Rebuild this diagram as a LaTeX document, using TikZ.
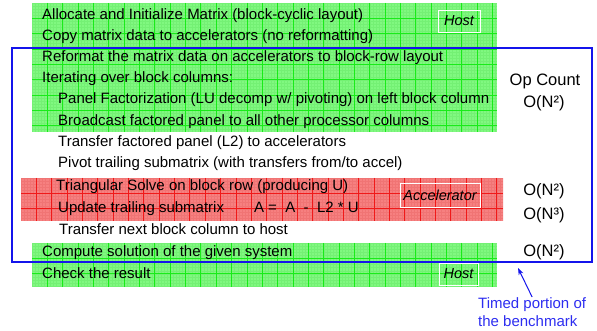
\documentclass[tikz,border=0pt]{standalone}
\usepackage{fontspec}
\setmainfont{Liberation Sans}
\usetikzlibrary{arrows.meta}

\definecolor{hostfill}{RGB}{128,248,128}
\definecolor{hostline}{RGB}{25,235,25}
\definecolor{hostminor}{RGB}{116,240,116}
\definecolor{accfill}{RGB}{246,128,128}
\definecolor{accline}{RGB}{240,25,25}
\definecolor{accminor}{RGB}{240,116,116}
\definecolor{timeblue}{RGB}{20,20,235}
\definecolor{noteblue}{RGB}{45,45,240}

% graph-paper panel: #1,#2 top-left, #3,#4 bottom-right, #5 fill, #6 major, #7 minor
\newcommand\paperpanel[7]{%
  \begin{scope}
    \clip (#1,#2) rectangle (#3,#4);
    \fill[#5] (#1,#2) rectangle (#3,#4);
    \foreach \k in {0,...,160} {
      \draw[#7, line width=0.25pt] ({#1+\k*3.07},#2) -- ({#1+\k*3.07},#4);
      \draw[#7, line width=0.25pt] (#1,{#2+\k*3.07}) -- (#3,{#2+\k*3.07});
    }
    \foreach \k in {1,...,32} {
      \draw[#6, line width=0.8pt] ({#1+\k*15.35},#2) -- ({#1+\k*15.35},#4);
      \draw[#6, line width=0.8pt] (#1,{#2+\k*15.35}) -- (#3,{#2+\k*15.35});
    }
  \end{scope}}

\tikzset{
  steptext/.style={anchor=base west, inner sep=0pt, font=\fontsize{15}{18}\selectfont},
  optext/.style={anchor=base, inner sep=0pt, font=\fontsize{16.5}{19}\selectfont},
  placetag/.style={draw=white, line width=0.9pt, inner sep=0pt,
                   font=\fontsize{14.5}{16}\selectfont\itshape},
  notetext/.style={anchor=north west, inner sep=0pt, align=left, text=noteblue,
                   font=\fontsize{15}{18.5}\selectfont},
}

\begin{document}
\begin{tikzpicture}[x=1pt, y=-1pt]
\useasboundingbox (0,0) rectangle (597,331);

% coloured phases
\paperpanel{32}{3}{497}{132}{hostfill}{hostline}{hostminor}
\paperpanel{21}{178}{503}{221}{accfill}{accline}{accminor}
\paperpanel{32}{243}{497}{287}{hostfill}{hostline}{hostminor}

% timed region
\draw[timeblue, line width=1.4pt] (12,48) rectangle (592,262);
\coordinate (tip) at (518,268);

% location tags
\node[placetag, minimum width=42pt, minimum height=22pt] (host1) at (459,21) {Host};
\node[placetag, minimum width=80pt, minimum height=24pt] (accel) at (440,195) {Accelerator};
\node[placetag, minimum width=39pt, minimum height=22pt] (host2) at (458.5,274) {Host};

% algorithm steps
\node[steptext] (s1)  at (42,20)  {Allocate and Initialize Matrix (block-cyclic layout)};
\node[steptext] (s2)  at (42,41)  {Copy matrix data to accelerators (no reformatting)};
\node[steptext] (s3)  at (42,62)  {Reformat the matrix data on accelerators to block-row layout};
\node[steptext] (s4)  at (42,83)  {Iterating over block columns:};
\node[steptext] (s5)  at (58,104) {Panel Factorization (LU decomp w/ pivoting) on left block column};
\node[steptext] (s6)  at (58,126) {Broadcast factored panel to all other processor columns};
\node[steptext] (s7)  at (58,147) {Transfer factored panel (L2) to accelerators};
\node[steptext] (s8)  at (58,168) {Pivot trailing submatrix (with transfers from/to accel)};
\node[steptext] (s9)  at (56,191) {Triangular Solve on block row (producing U)};
\node[steptext] (s10) at (58,213) {Update trailing submatrix\hspace{2em}A =\ \ A\ \ -\ \ L2 * U};
\node[steptext] (s11) at (59,234) {Transfer next block column to host};
\node[steptext] (s12) at (42,256) {Compute solution of the given system};
\node[steptext] (s13) at (42,278) {Check the result};

% operation counts
\node[optext] (oph) at (545,86)  {Op Count};
\node[optext] (op1) at (544,108) {O(N²)};
\node[optext] (op2) at (544,196) {O(N²)};
\node[optext] (op3) at (544,219) {O(N³)};
\node[optext] (op4) at (544,256) {O(N²)};

% note
\node[notetext] (note) at (478,297) {Timed portion of\\the benchmark};
\draw[timeblue, line width=1pt, -{Stealth[length=7pt,width=5pt]}] (note.north) -- (tip);
\end{tikzpicture}
\end{document}
